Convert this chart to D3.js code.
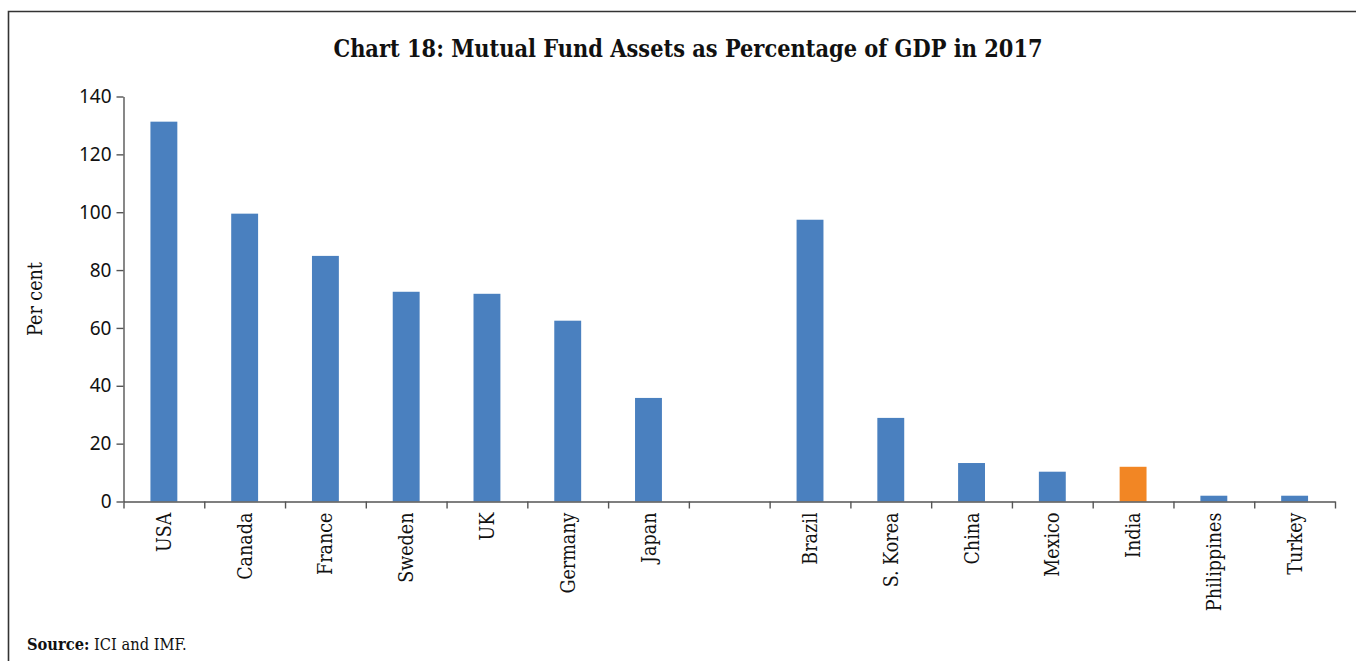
<!DOCTYPE html>
<html>
<head>
<meta charset="utf-8">
<script src="https://cdn.jsdelivr.net/npm/d3@7"></script>
<style>
  html, body { margin: 0; padding: 0; background: #fff; }
  svg { display: block; }
</style>
</head>
<body>
<svg id="chart" width="1356" height="661"></svg>
<script>
// Mutual fund assets as a share of GDP, 2017 (per cent)
const categories = ["USA", "Canada", "France", "Sweden", "UK", "Germany", "Japan", "",
                    "Brazil", "S. Korea", "China", "Mexico", "India", "Philippines", "Turkey"];
const values = [131.3, 99.5, 84.9, 72.5, 71.8, 62.5, 35.8, null,
                97.4, 28.9, 13.3, 10.3, 12.0, 2.0, 2.0];
const highlighted = ["India"];
const yTicks = [0, 20, 40, 60, 80, 100, 120, 140];

const title = "Chart 18: Mutual Fund Assets as Percentage of GDP in 2017";
const yLabel = "Per cent";
const sourceLabel = "Source:";
const sourceText = " ICI and IMF.";

const svg = d3.select("#chart");
const W = 1356, H = 661;

const serif = "'DejaVu Serif Condensed', 'DejaVu Serif', 'Liberation Serif', serif";
const sans = "'Noto Sans', 'Open Sans', sans-serif";

// outer frame (open on the right and bottom edges)
svg.append("path")
  .attr("d", `M8.5,${H + 2}V11.5H${W + 2}`)
  .attr("fill", "none")
  .attr("stroke", "#333")
  .attr("stroke-width", 1.6);

const plot = { left: 123.5, right: 1335, top: 96.5, bottom: 501.5 };

// one slot per category; the empty key keeps the gap between the two groups
const keys = categories.map((c, i) => c === "" ? `__gap${i}` : c);

const x = d3.scaleBand()
  .domain(keys)
  .range([plot.left, plot.right])
  .paddingInner(0.667)
  .paddingOuter(0.3335);

const y = d3.scaleLinear()
  .domain([0, 140])
  .range([plot.bottom, plot.top]);

// title
svg.append("text")
  .attr("x", 688)
  .attr("y", 57)
  .attr("text-anchor", "middle")
  .attr("font-family", serif)
  .attr("font-weight", "bold")
  .attr("font-size", 23.3)
  .attr("fill", "#111")
  .text(title);

// bars
const rows = keys.map((k, i) => ({ key: k, name: categories[i], value: values[i] }))
  .filter(d => d.value != null);

svg.append("g")
  .selectAll("rect")
  .data(rows)
  .join("rect")
  .attr("x", d => x(d.key))
  .attr("width", x.bandwidth())
  .attr("y", d => y(d.value))
  .attr("height", d => y(0) - y(d.value))
  .attr("fill", d => highlighted.includes(d.name) ? "#F28624" : "#4A80BF");

// y axis
const yAxis = svg.append("g")
  .attr("transform", `translate(${plot.left},0)`)
  .call(d3.axisLeft(y).tickValues(yTicks).tickSizeInner(7).tickSizeOuter(0).tickPadding(5));
yAxis.select(".domain").attr("stroke", "#555").attr("stroke-width", 1.4);
yAxis.selectAll(".tick line").attr("stroke", "#555").attr("stroke-width", 1.4);
yAxis.selectAll(".tick text")
  .attr("font-family", sans)
  .attr("font-size", 19)
  .attr("fill", "#111");

// x axis: ticks on category boundaries
const boundary = d3.scaleLinear().domain([0, keys.length]).range([plot.left, plot.right]);
const xAxis = svg.append("g")
  .attr("transform", `translate(0,${plot.bottom})`)
  .call(d3.axisBottom(boundary).tickValues(d3.range(0, keys.length + 1))
    .tickFormat("").tickSizeInner(7).tickSizeOuter(0));
xAxis.select(".domain").attr("stroke", "#555").attr("stroke-width", 1.4);
xAxis.selectAll(".tick line").attr("stroke", "#555").attr("stroke-width", 1.4);

// category labels, rotated
const labelAxis = svg.append("g")
  .attr("transform", `translate(0,${plot.bottom})`)
  .call(d3.axisBottom(x).tickSize(0).tickFormat((k, i) => categories[i]));
labelAxis.select(".domain").remove();
labelAxis.selectAll(".tick text")
  .attr("font-family", serif)
  .attr("font-size", 19.5)
  .attr("fill", "#111")
  .attr("text-anchor", "end")
  .attr("transform", "rotate(-90)")
  .attr("x", -11)
  .attr("y", 0)
  .attr("dy", "0.36em");

// y axis title
svg.append("text")
  .attr("transform", `translate(42,299) rotate(-90)`)
  .attr("text-anchor", "middle")
  .attr("font-family", serif)
  .attr("font-size", 19.5)
  .attr("fill", "#111")
  .text(yLabel);

// source note
const src = svg.append("text")
  .attr("x", 27)
  .attr("y", 650)
  .attr("font-family", serif)
  .attr("font-size", 16.3)
  .attr("fill", "#111");
src.append("tspan").attr("font-weight", "bold").text(sourceLabel);
src.append("tspan").text(sourceText);
</script>
</body>
</html>
